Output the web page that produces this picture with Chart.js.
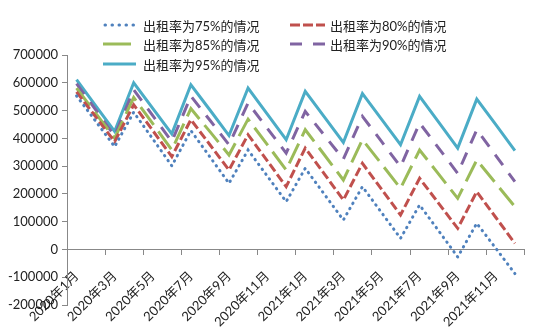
<!DOCTYPE html>
<html>
<head>
<meta charset="utf-8">
<script src="https://cdn.jsdelivr.net/npm/chart.js@4/dist/chart.umd.min.js"></script>
<style>
  html, body { margin: 0; padding: 0; background: #fff; }
  #wrap { position: relative; width: 540px; height: 333px; }
  #c { position: absolute; left: 0; top: 0; }
  .lg { position: absolute; height: 20px; display: flex; align-items: center;
        font-family: Lato, "Noto Sans CJK SC", sans-serif; font-size: 13px; color: #222; white-space: nowrap; }
  .lg svg { display: block; }
</style>
</head>
<body>
<div id="wrap">
  <canvas id="c" width="540" height="333"></canvas>
</div>
<script>
// ---- data ----
const months = ['2020年1月','2020年2月','2020年3月','2020年4月','2020年5月','2020年6月',
  '2020年7月','2020年8月','2020年9月','2020年10月','2020年11月','2020年12月',
  '2021年1月','2021年2月','2021年3月','2021年4月','2021年5月','2021年6月',
  '2021年7月','2021年8月','2021年9月','2021年10月','2021年11月','2021年12月'];

const seriesNames = ['出租率为75%的情况','出租率为80%的情况','出租率为85%的情况','出租率为90%的情况','出租率为95%的情况'];

const rate75 = [553000, 462000, 370000, 494000, 398000, 301000, 428000, 333000, 238000, 358000, 265000, 172000,
                292000, 199000, 106000, 226000, 133000, 40000, 160000, 67000, -27000, 94000, 4000, -87000];
const rate80 = [567000, 478000, 388000, 521000, 428000, 334000, 467000, 377000, 286000, 413000, 320000, 226000,
                365000, 272000, 178000, 310000, 217000, 124000, 256000, 166000, 76000, 208000, 115000, 22000];
const rate85 = [581000, 491000, 400000, 547000, 453000, 358000, 507000, 424000, 340000, 469000, 378000, 286000,
                431000, 341000, 250000, 395000, 308000, 220000, 358000, 271000, 184000, 322000, 238000, 154000];
const rate90 = [597000, 503000, 409000, 575000, 482000, 388000, 552000, 465000, 377000, 527000, 437000, 347000,
                497000, 411000, 325000, 479000, 389000, 298000, 455000, 365000, 274000, 431000, 338000, 244000];
const rate95 = [611000, 518000, 425000, 600000, 508000, 416000, 593000, 502000, 410000, 581000, 488000, 395000,
                569000, 477000, 385000, 561000, 469000, 377000, 551000, 458000, 365000, 541000, 449000, 356000];

const yTicks = [-200000, -100000, 0, 100000, 200000, 300000, 400000, 500000, 600000, 700000];

// ---- styles ----
const colors = ['#4F81BD', '#C0504D', '#9BBB59', '#8064A2', '#4BACC6'];
const dashes = [[0.5, 5.5], [9, 3.5], [22, 8], [13, 10], []];
const legendDashes = [[0.5, 6.5], [10, 3], [], [12, 11], []];
const caps = ['round', 'butt', 'butt', 'butt', 'butt'];
const allData = [rate75, rate80, rate85, rate90, rate95];

const datasets = allData.map((d, i) => ({
  label: seriesNames[i],
  data: d,
  borderColor: colors[i],
  backgroundColor: colors[i],
  borderWidth: 3,
  borderDash: dashes[i],
  borderCapStyle: caps[i],
  pointRadius: 0,
  tension: 0,
  fill: false
}));

const tickFont = { family: 'Lato, "Noto Sans CJK SC", sans-serif', size: 13 };
const axisColor = '#888';

new Chart(document.getElementById('c'), {
  type: 'line',
  data: { labels: months, datasets },
  options: {
    responsive: false,
    animation: false,
    devicePixelRatio: 1,
    layout: { padding: { top: 55, right: 4, bottom: 28, left: 0 } },
    plugins: { legend: { display: false }, tooltip: { enabled: false } },
    scales: {
      x: {
        type: 'category',
        position: { y: 0 },
        offset: true,
        grid: {
          offset: true,
          drawOnChartArea: false,
          drawTicks: true,
          tickLength: 5,
          color: axisColor,
          tickColor: (ctx) => (ctx.index === undefined || ctx.index % 2 === 0) ? axisColor : 'rgba(0,0,0,0)'
        },
        border: { display: true, color: axisColor, width: 1 },
        ticks: {
          autoSkip: false,
          maxRotation: 45,
          minRotation: 45,
          padding: 14,
          color: '#222',
          font: tickFont,
          callback: function (v, i) { return i % 2 === 0 ? this.getLabelForValue(v) : ''; }
        }
      },
      y: {
        min: yTicks[0],
        max: yTicks[yTicks.length - 1],
        afterBuildTicks: (scale) => { scale.ticks = yTicks.map(v => ({ value: v })); },
        afterFit: (scale) => { scale.width = 67; },
        grid: { drawOnChartArea: false, drawTicks: true, tickLength: 5, color: axisColor },
        border: { display: true, color: axisColor, width: 1 },
        ticks: {
          padding: 4,
          color: '#222',
          font: tickFont,
          callback: (v) => String(v)
        }
      }
    }
  }
});

// ---- legend (HTML) ----
const legendPos = [[103, 15], [290, 15], [103, 34], [290, 34], [103, 54]];
const legendSample = [33, 35, 28, 35, 33];
const legendGap = [7, 5, 12, 5, 7];
const wrap = document.getElementById('wrap');
seriesNames.forEach((name, i) => {
  const div = document.createElement('div');
  div.className = 'lg';
  div.style.left = legendPos[i][0] + 'px';
  div.style.top = legendPos[i][1] + 'px';
  const sw = legendSample[i];
  const svgNS = 'http://www.w3.org/2000/svg';
  const svg = document.createElementNS(svgNS, 'svg');
  svg.setAttribute('width', sw);
  svg.setAttribute('height', 10);
  const ln = document.createElementNS(svgNS, 'line');
  ln.setAttribute('x1', caps[i] === 'round' ? 2 : 0);
  ln.setAttribute('x2', sw);
  ln.setAttribute('y1', 5);
  ln.setAttribute('y2', 5);
  ln.setAttribute('stroke', colors[i]);
  ln.setAttribute('stroke-width', 3);
  ln.setAttribute('stroke-linecap', caps[i]);
  if (legendDashes[i].length) ln.setAttribute('stroke-dasharray', legendDashes[i].join(' '));
  svg.appendChild(ln);
  div.appendChild(svg);
  const sp = document.createElement('span');
  sp.style.marginLeft = legendGap[i] + 'px';
  sp.textContent = name;
  div.appendChild(sp);
  wrap.appendChild(div);
});
</script>
</body>
</html>
